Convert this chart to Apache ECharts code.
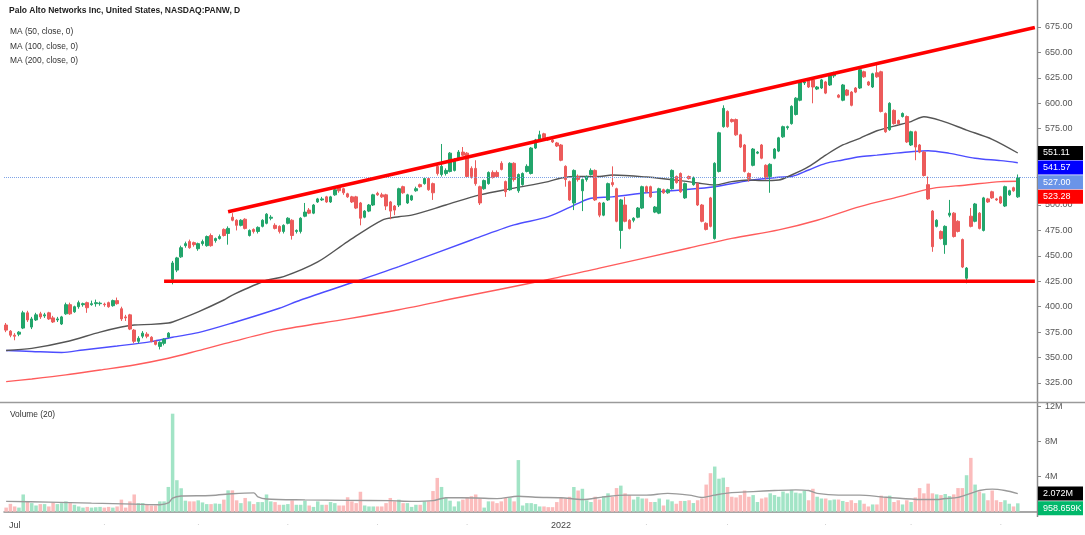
<!DOCTYPE html>
<html>
<head>
<meta charset="utf-8">
<title>PANW daily</title>
<script src="https://cdn.jsdelivr.net/npm/echarts/dist/echarts.min.js"></script>
<style>
html, body { margin: 0; padding: 0; background: #fff; }
#chart { width: 1085px; height: 535px; }
</style>
</head>
<body>
<div id="chart"></div>
<script>
// daily candles (index 0 = 2021-06-29)
var opens = [382,376,372,373,379,394,380,387,393,391,394,389,387,383,393,402,395,400,402,404,
402,403,403,402.5,404,401,406,398,390,392,377,366,371,373,370,366,361,364,370,427,
436,449,460,464,463,457,462,460,470,465,467,476,472,488,485,480,486,470,476,474,
479,482,487,480,479,474,482,485,474,474,489,495,492,503,505,508,503,510,517,516,
511,508,508,502,488,494,500,511.5,510,510,503,499,500,518,502,505,514,520,521,526,
521,538,530,531,533,534,546,552,551,536,536,518,516,521,532,532,541,523,515,541,
514,520,533,531,556,564,570,566,564,561,559,538,523,502,528,514,525,530,534,502,
490,505,522,516,475,500,485,485,488,497,518,518,493,492,515,512,516,528,531,507,
528,520,521,500,482,507,467,533,577,592,584,584,569,559,531,539,551,559,539,528,
546,553,567,576,580,589,603,620,623,623,614,615,621,618,627,608,603,613,611,615,
615,631,621,616,630,631,590,574,593,583,587,587,559,572,559,552,520,494,479,474,
461,490,492,484,466,428,489,484,492,475,506,513,506,508,499,510,517,508];
var closes = [377,372,371,375,394,387,388,392,390,392,388,385,388,390,402,393,400,404,403,399,
403,404,403.5,402,400,406,403,388,389,378,366,369,374,371,366,363,365,368,374,443,
448,458,462,458,461,462,464,469,460,467,469,470,477,485,480,485,477,475,474,478,
485,491,488,477,474,480,487,470,475,487,493,492,500,506,506,503,508,515,514,512,
508,503,497,487,494,500,510,510,508,499,494,495,516,512,510,509,516,518,526,515,
512,531,538,534,551,544,552,549,528,528,521,502,524,532,527,528,535,513,541,525,
530,531,538,556,564,569,566,564,562,558,544,525,505,534,525,525,528,534,505,490,
502,521,520,484,505,484,477,487,497,518,513,508,498,516,512,515,534,522,513,521,
526,527,500,484,476,479,541,571,595,577,582,569,557,533,526,555,552,546,527,540,
555,566,577,577,597,605,621,621,616,616,616,623,610,628,629,606,618,608,598,611,
633,626,618,629,626,592,572,600,580,580,590,562,572,557,552,529,506,459,485,467,
479,492,469,474,439,438,479,501,477,507,503,507,505,502,518,514,514,527];
var lows = [375,370,367,371,378,385,378,386,388,389,387,384,385,382,392,392,394,398,400,394,
401,400,401,400,399,400,402,386,386,377,364,364,369,369,365,362,358,362,369,422,
434,448,458,457,459,455,460,459,459,463,466,469,461,484,475,479,476,469,472,472,
478,481,485,476,472,472,481,466,472,472,488,491,491,502,504,502,502,509,512,510,
507,502,496,480,487,493,499,509,507,495,486,490,498,511,501,504,513,517,520,514,
505,529,528,529,532,533,545,548,527,526,519,500,515,520,526,527,534,508,514,523,
512,519,532,530,555,563,565,563,561,557,543,518,504,495,523,494,523,529,504,488,
489,504,518,483,457,483,476,483,487,496,512,507,492,491,511,511,515,521,512,506,
525,519,499,483,475,478,466,532,576,576,581,568,556,532,523,538,550,545,525,512,
545,552,566,574,579,588,602,618,615,600,613,614,609,617,625,605,602,607,597,610,
614,625,617,615,625,591,571,573,579,579,586,561,558,544,551,528,505,454,478,466,
452,488,468,473,438,423,478,483,476,474,502,506,504,501,498,509,513,507];
var highs = [384,377,374,376,396,396,390,394,395,394,395,391,390,391,404,404,401,406,404,405,
406,407,405,404,405,407,409,400,392,393,378,371,376,375,371,367,366,369,375,445,
449,460,464,466,464,463,466,470,472,468,471,477,479,492,486,486,487,476,477,479,
486,492,490,482,480,481,488,486,476,488,502,497,501,507,508,509,509,516,518,517,
512,509,509,503,495,501,511,513,512,511,504,500,517,519,511,510,518,521,527,527,
522,540,560,536,552,546,554,557,552,538,544,519,525,533,534,534,543,524,542,542,
531,532,540,557,565,573,571,567,565,562,560,539,524,535,530,526,529,536,535,503,
503,522,538,517,506,508,486,488,498,519,519,519,499,517,516,516,535,529,532,522,
529,528,522,501,483,508,542,572,598,593,585,585,570,560,532,556,553,560,540,541,
556,567,578,578,598,606,622,623,624,624,617,624,622,629,631,609,619,614,612,616,
634,632,622,630,639,632,591,601,594,584,591,588,573,573,560,553,528,495,486,475,
480,505,493,485,467,439,497,502,493,508,507,514,507,509,519,515,518,530];
// volume in millions
var volumes = [0.47,0.9,0.6,0.47,1.97,1.18,0.98,0.71,0.87,0.87,0.6,1.06,0.87,0.98,1.18,0.98,0.79,0.6,0.47,0.55,
0.47,0.51,0.55,0.47,0.55,0.47,0.6,1.38,0.47,1.18,1.97,0.98,0.98,0.79,0.71,0.71,1.18,1.18,2.83,11.2,
3.6,2.68,1.26,1.18,1.18,1.3,1.06,0.87,0.87,0.94,0.9,1.38,2.44,2.44,1.3,0.98,1.57,1.18,0.87,1.1,
1.1,1.97,1.18,1.1,0.79,0.79,0.87,1.3,0.79,0.79,1.26,0.71,0.55,1.18,0.79,0.79,1.1,0.98,0.71,0.71,
1.65,1.18,0.98,2.28,0.71,0.6,0.6,0.6,0.6,0.98,1.57,1.18,1.38,0.98,0.98,0.55,0.79,0.79,1.18,1.18,
2.36,3.86,2.83,1.57,1.26,0.6,1.18,1.38,1.65,1.77,1.97,1.5,0.47,1.18,1.18,0.98,1.18,1.57,1.57,1.18,
5.9,0.71,0.98,0.98,0.87,0.6,0.6,0.52,0.52,1.1,1.59,1.5,1.7,2.82,2.42,2.62,1.31,1.11,1.71,1.39,
1.79,2.1,1.71,2.7,2.98,2.1,1.9,1.39,1.71,1.51,1.51,1.11,1.11,1.51,0.71,1.39,1.19,0.91,1.23,1.23,
1.31,0.99,1.31,1.51,3.1,4.4,5.16,3.77,3.89,2.82,1.71,1.63,1.9,2.42,1.71,1.9,1.11,1.51,1.63,2.1,
1.9,1.71,2.3,2.1,2.5,2.18,2.1,2.42,1.31,2.62,1.71,1.51,1.51,1.31,1.39,1.39,1.23,1.11,1.31,0.99,
1.31,0.91,0.6,0.83,0.83,1.83,1.63,1.83,1.11,1.31,0.83,1.31,1.11,1.63,2.7,2.1,3.21,2.1,1.98,1.9,
2.02,1.79,1.98,2.7,2.7,4.17,6.15,3.1,2.3,2.1,1.31,2.42,1.31,1.11,1.31,0.91,0.6,0.958659];

// moving averages as drawn, read at candle indexes: [index, value]
var ma50 = [[0,357],[6,359],[14,365.5],[22,375],[27,380],[30,382],[34,382.6],[38,384],[39,385],[45,395],
[51,406.6],[53,411.5],[61,426],[65,429.5],[73,444],[80,464],[88,485],[92,488.5],[95,490],[103,500],
[111,510],[119,516.6],[127,523],[130,526.6],[134,528],[139,528],[142,529.5],[150,527.5],[158,524],[162,521.6],
[166,519.7],[170,523],[174,524.6],[177,524],[181,524.6],[184,529.5],[188,537.7],[192,549],[196,559],[200,565.6],
[204,573],[208,577.6],[212,582],[215,586.8],[219,583],[225,573.7],[231,564.6],[237,551.11]];
var ma100 = [[0,357],[6,356],[13,355],[18,357.5],[26,361.4],[34,365.7],[39,370],[45,374.5],[53,384],[64,398.5],
[69,406.6],[82,425],[92,439.4],[109,465.6],[119,480.4],[127,488.5],[134,501.7],[137,506.6],[142,508],[150,512],
[158,514.8],[166,518],[174,524],[181,527.3],[184,528],[188,534.4],[192,541],[196,544.3],[200,547.5],[204,549],
[208,550.8],[212,552.4],[216,553.4],[221,550.8],[227,546],[233,543.6],[237,541.57]];
var ma200 = [[0,326.3],[6,329],[14,333],[22,337.8],[30,342.7],[38,349.3],[45,356.8],[53,365.7],[64,377],[80,388],
[92,397],[106,409],[125,425],[139,438],[160,457.7],[170,467.2],[181,475.5],[190,485],[200,498.4],[209,508],
[217,516.4],[225,519.7],[233,523],[237,523.28]];
var volMa20 = [[0,1.18],[10,1.1],[20,0.98],[30,0.87],[36,0.8],[38,1.0],[39,1.55],[41,1.8],[48,1.85],[53,2.05],
[58,2.15],[59,1.7],[61,1.45],[70,1.35],[80,1.3],[90,1.26],[95,1.18],[100,1.26],[103,1.6],[110,1.57],
[115,1.5],[120,1.77],[124,1.65],[130,1.6],[135,1.39],[140,1.7],[145,1.9],[150,1.9],[155,2.1],[160,1.9],
[163,1.63],[166,1.9],[170,2.18],[175,2.3],[180,2.42],[185,2.5],[188,2.42],[190,2.1],[195,1.9],[200,1.9],
[205,1.7],[210,1.51],[215,1.39],[218,1.39],[220,1.51],[223,1.63],[226,2.1],[228,2.42],[231,2.58],[234,2.42],
[237,2.072]];

// drawn trend lines: [index, price]
var trendLine = [[52, 493.4], [241, 674.5]];
var supportLine = [[37, 425], [241, 425]];
var lastPrice = 527.00;

var holidays = ['2021-07-05','2021-09-06','2021-11-25','2021-12-24','2022-01-17','2022-02-21','2022-04-15','2022-05-30'];
var padDays = 4; // empty room right of the last candle

var UP = '#22a56b', DOWN = '#ec5b5b';
var UP_VOL = '#a2e4c6', DOWN_VOL = '#fbbcbc';
var FONT = 'Liberation Sans, Arial, sans-serif';

function buildDates(start, n) {
    var out = [];
    var d = new Date(start + 'T12:00:00Z');
    while (out.length < n) {
        var s = d.toISOString().slice(0, 10);
        var wd = d.getUTCDay();
        if (wd != 0 && wd != 6 && holidays.indexOf(s) < 0) out.push(s);
        d.setUTCDate(d.getUTCDate() + 1);
    }
    return out;
}

var dates = buildDates('2021-06-29', opens.length + padDays);

function isMonthStart(i) {
    return i > 0 && dates[i].slice(5, 7) != dates[i - 1].slice(5, 7);
}

function byIndex(arr) {
    return arr.map(function (p) { return [dates[p[0]], p[1]]; });
}

var candles = opens.map(function (o, i) {
    return [o, closes[i], lows[i], highs[i]];
});
var volBars = volumes.map(function (v, i) {
    return { value: v, itemStyle: { color: closes[i] >= opens[i] ? UP_VOL : DOWN_VOL } };
});

var chart = echarts.init(document.getElementById('chart'), null, { renderer: 'canvas' });

var option = {
    animation: false,
    backgroundColor: '#fff',
    textStyle: { fontFamily: FONT },
    grid: [
        { left: 4, right: 48, top: 27, height: 356 },
        { left: 4, right: 48, top: 406.7, height: 105 }
    ],
    xAxis: [
        { type: 'category', gridIndex: 0, data: dates, boundaryGap: true, show: false },
        {
            type: 'category', gridIndex: 1, data: dates, boundaryGap: true, offset: 5,
            axisLine: { lineStyle: { color: '#8a8a8a', width: 1.5 } },
            axisTick: { alignWithLabel: true, length: 3, interval: function (i) { return isMonthStart(i); }, lineStyle: { color: '#8a8a8a' } },
            axisLabel: {
                interval: function (i) { return isMonthStart(i); },
                margin: 4,
                color: '#444', fontSize: 9, fontFamily: FONT,
                formatter: function (v) {
                    var m = v.slice(5, 7);
                    if (m == '07') return 'Jul';
                    if (m == '01') return v.slice(0, 4);
                    return '{d|·}';
                },
                rich: { d: { color: '#c8c8c8', fontSize: 8 } }
            },
            splitLine: { show: false }
        }
    ],
    yAxis: [
        {
            type: 'value', gridIndex: 0, position: 'right', min: 325, max: 675, interval: 25,
            axisLine: { show: false },
            axisTick: { show: true, length: 4, lineStyle: { color: '#8a8a8a' } },
            axisLabel: { margin: 8, formatter: function (v) { return v.toFixed(2); }, color: '#555', fontSize: 9, fontFamily: FONT },
            splitLine: { show: false }
        },
        {
            type: 'value', gridIndex: 1, position: 'right', min: 0, max: 12, interval: 4,
            axisLine: { show: false },
            axisTick: { show: true, length: 4, lineStyle: { color: '#8a8a8a' } },
            axisLabel: { margin: 8, formatter: function (v) { return v == 0 ? '0' : v + 'M'; }, color: '#555', fontSize: 9, fontFamily: FONT },
            splitLine: { show: false }
        }
    ],
    series: [
        {
            name: 'MA200', type: 'line', xAxisIndex: 0, yAxisIndex: 0, data: byIndex(ma200),
            showSymbol: false, smooth: 0.3, lineStyle: { color: '#ff5c5c', width: 1.4 }, z: 2
        },
        {
            name: 'MA100', type: 'line', xAxisIndex: 0, yAxisIndex: 0, data: byIndex(ma100),
            showSymbol: false, smooth: 0.3, lineStyle: { color: '#4d4dff', width: 1.4 }, z: 2
        },
        {
            name: 'MA50', type: 'line', xAxisIndex: 0, yAxisIndex: 0, data: byIndex(ma50),
            showSymbol: false, smooth: 0.3, lineStyle: { color: '#555555', width: 1.4 }, z: 2
        },
        {
            name: 'PANW', type: 'candlestick', xAxisIndex: 0, yAxisIndex: 0, data: candles,
            barWidth: 3, z: 3,
            itemStyle: { color: UP, color0: DOWN, borderColor: UP, borderColor0: DOWN, borderWidth: 1 },
            markLine: {
                silent: true, symbol: ['none', 'none'], label: { show: false },
                lineStyle: { color: '#7ea3e6', type: 'dotted', width: 1 },
                data: [{ yAxis: lastPrice }]
            }
        },
        {
            name: 'trend', type: 'line', xAxisIndex: 0, yAxisIndex: 0, data: byIndex(trendLine),
            showSymbol: false, lineStyle: { color: '#ff0000', width: 3.5 }, z: 5
        },
        {
            name: 'support', type: 'line', xAxisIndex: 0, yAxisIndex: 0, data: byIndex(supportLine),
            showSymbol: false, lineStyle: { color: '#ff0000', width: 3.5 }, z: 5
        },
        {
            name: 'Volume', type: 'bar', xAxisIndex: 1, yAxisIndex: 1, data: volBars,
            barWidth: '82%', z: 2
        },
        {
            name: 'VolMA', type: 'line', xAxisIndex: 1, yAxisIndex: 1, data: byIndex(volMa20),
            showSymbol: false, smooth: 0.3, lineStyle: { color: '#9a9a9a', width: 1.4 }, z: 3
        }
    ]
};

chart.setOption(option);

// texts and the value tags on the right scale
function tagList(yAxisIndex, tags) {
    var out = [];
    var prev = -1e9;
    tags.sort(function (a, b) { return b.v - a.v; });
    tags.forEach(function (t) {
        var y = chart.convertToPixel({ yAxisIndex: yAxisIndex }, t.v);
        y = Math.max(y, prev + 14.6);
        prev = y;
        out.push({ type: 'rect', z: 100, shape: { x: 1038, y: y - 7, width: 45, height: 14 }, style: { fill: t.bg } });
        out.push({ type: 'text', z: 101, style: { text: t.text, x: 1043, y: y, fill: '#fff', font: '9px ' + FONT, verticalAlign: 'middle' } });
    });
    return out;
}

var lastVol = volumes[volumes.length - 1];
var lastVolMa = volMa20[volMa20.length - 1][1];

var g = [
    { type: 'line', z: 50, shape: { x1: 1037.5, y1: 0, x2: 1037.5, y2: 517 }, style: { stroke: '#8a8a8a', lineWidth: 1.5 } },
    { type: 'line', z: 50, shape: { x1: 0, y1: 402.5, x2: 1085, y2: 402.5 }, style: { stroke: '#9a9a9a', lineWidth: 1.5 } },
    { type: 'text', z: 60, style: { text: 'Palo Alto Networks Inc, United States, NASDAQ:PANW, D', x: 9, y: 11, fill: '#1e1e1e', font: 'bold 8.5px ' + FONT, verticalAlign: 'middle' } },
    { type: 'text', z: 60, style: { text: 'MA (50, close, 0)', x: 10, y: 32, fill: '#333', font: '8.4px ' + FONT, verticalAlign: 'middle' } },
    { type: 'text', z: 60, style: { text: 'MA (100, close, 0)', x: 10, y: 46.5, fill: '#333', font: '8.4px ' + FONT, verticalAlign: 'middle' } },
    { type: 'text', z: 60, style: { text: 'MA (200, close, 0)', x: 10, y: 61, fill: '#333', font: '8.4px ' + FONT, verticalAlign: 'middle' } },
    { type: 'text', z: 60, style: { text: 'Volume (20)', x: 10, y: 415, fill: '#333', font: '8.4px ' + FONT, verticalAlign: 'middle' } }
];

g = g.concat(tagList(0, [
    { v: ma50[ma50.length - 1][1], text: ma50[ma50.length - 1][1].toFixed(2), bg: '#000000' },
    { v: ma100[ma100.length - 1][1], text: ma100[ma100.length - 1][1].toFixed(2), bg: '#0000ff' },
    { v: lastPrice, text: lastPrice.toFixed(2), bg: '#6a94e8' },
    { v: ma200[ma200.length - 1][1], text: ma200[ma200.length - 1][1].toFixed(2), bg: '#ff0000' }
]));
g = g.concat(tagList(1, [
    { v: lastVolMa, text: lastVolMa.toFixed(3) + 'M', bg: '#000000' },
    { v: lastVol, text: (lastVol * 1000).toFixed(3) + 'K', bg: '#00b86b' }
]));

chart.setOption({ graphic: g });
</script>
</body>
</html>
